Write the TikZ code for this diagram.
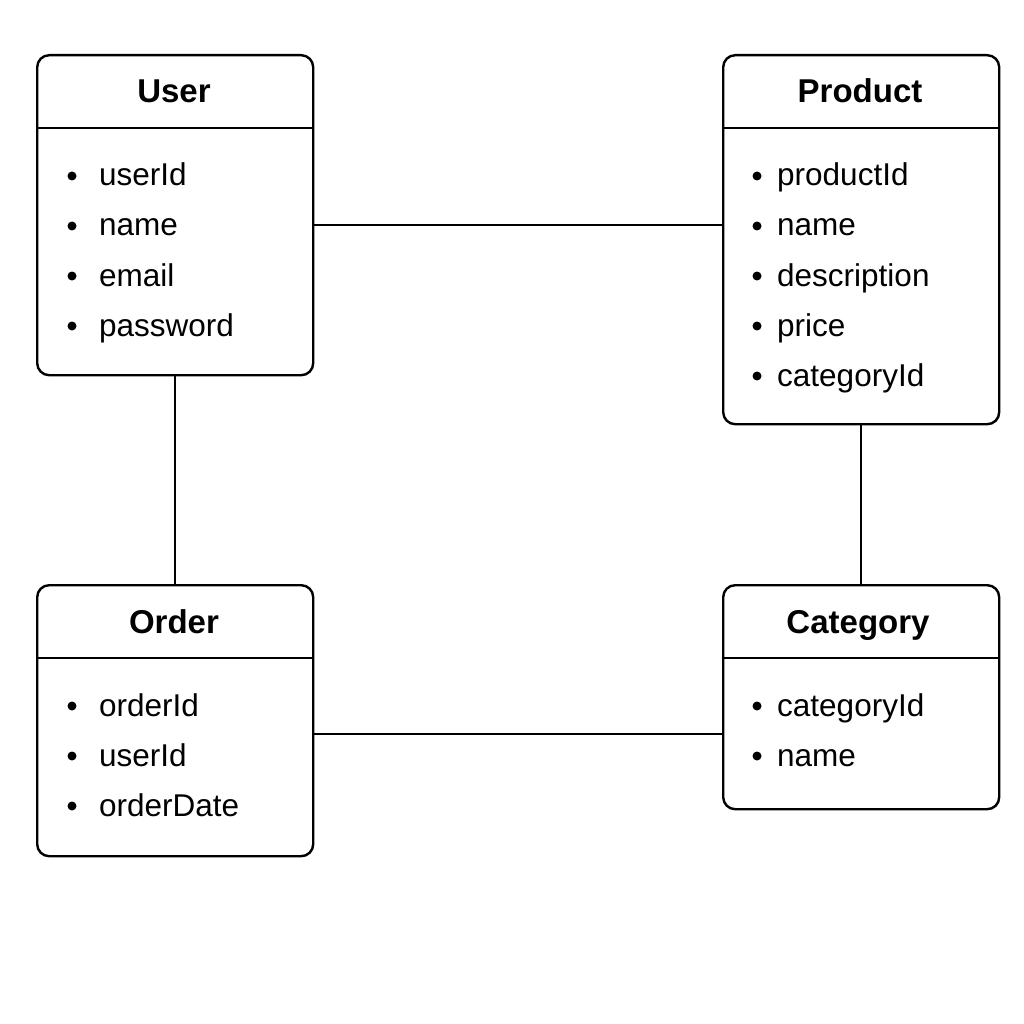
\documentclass[tikz,border=0pt]{standalone}
\usepackage{fontspec}
\setmainfont{Liberation Sans}
\usetikzlibrary{calc}
\begin{document}
\begin{tikzpicture}[x=1pt,y=-1pt,
  entity/.style={draw, line width=2.4pt, rounded corners=12pt, anchor=north west, inner sep=0pt, minimum width=276pt},
  ttl/.style={anchor=base, inner sep=0pt, font=\fontsize{33}{38}\selectfont\bfseries},
  item/.style={anchor=base west, inner sep=0pt, font=\fontsize{31.5}{38}\selectfont},
  dot/.style={circle, fill=black, inner sep=0pt, minimum size=9pt},
  sep/.style={line width=2.2pt},
  link/.style={line width=2.2pt}]
\useasboundingbox (0,0) rectangle (1024,1024);
\fill[white] (0,0) rectangle (1024,1024);

% entity boxes
\node[entity, minimum height=320pt] (user) at (36,54) {};
\node[entity, minimum height=369pt] (product) at (722,54) {};
\node[entity, minimum height=271pt] (order) at (36,584) {};
\node[entity, minimum height=224pt] (category) at (722,584) {};

% header separators
\draw[sep] (user.west |- 0,128) -- (user.east |- 0,128);
\draw[sep] (product.west |- 0,128) -- (product.east |- 0,128);
\draw[sep] (order.west |- 0,658) -- (order.east |- 0,658);
\draw[sep] (category.west |- 0,658) -- (category.east |- 0,658);

% titles
\node[ttl] (user-t) at (174,103) {User};
\node[ttl] (product-t) at (860,103) {Product};
\node[ttl] (order-t) at (174,633) {Order};
\node[ttl] (category-t) at (858,633) {Category};

% attributes
\foreach \txt [count=\i] in {userId,name,email,password} {
  \node[dot] (user-d\i) at (72,126+50*\i) {};
  \node[item] (user-a\i) at (99,136+50*\i) {\txt};
}
\foreach \txt [count=\i] in {productId,name,description,price,categoryId} {
  \node[dot] (product-d\i) at (757,126+50*\i) {};
  \node[item] (product-a\i) at (777,136+50*\i) {\txt};
}
\foreach \txt [count=\i] in {orderId,userId,orderDate} {
  \node[dot] (order-d\i) at (72,656+50*\i) {};
  \node[item] (order-a\i) at (99,666+50*\i) {\txt};
}
\foreach \txt [count=\i] in {categoryId,name} {
  \node[dot] (category-d\i) at (757,656+50*\i) {};
  \node[item] (category-a\i) at (777,666+50*\i) {\txt};
}

% relationships
\draw[link] ([yshift=-9.5pt]user.east) coordinate (up) -- (up -| product.west);
\draw[link] (user.south) -- (order.north);
\draw[link] (product.south) -- (category.north);
\draw[link] ([yshift=-13pt]order.east) coordinate (oc) -- (oc -| category.west);
\end{tikzpicture}
\end{document}
